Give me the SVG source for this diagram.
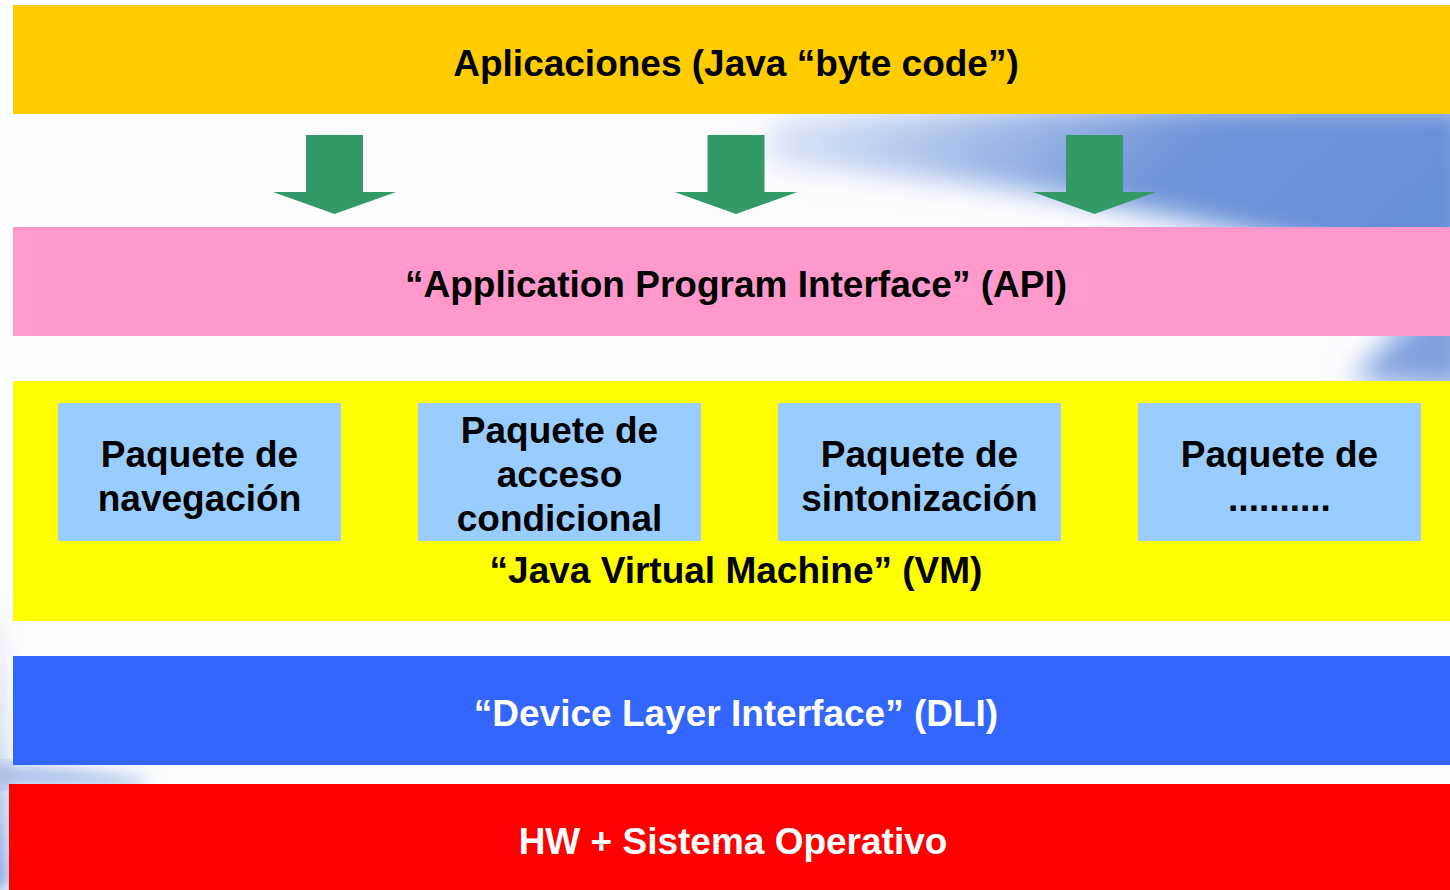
<svg xmlns="http://www.w3.org/2000/svg" xmlns:xlink="http://www.w3.org/1999/xlink" width="1450" height="890" viewBox="0 0 1450 890">
<defs>
<style>
.t{font-family:"Liberation Sans",Arial,sans-serif;font-weight:bold;font-size:37px;text-anchor:middle}
.k{fill:#000}
.w{fill:#fff}
.box{fill:#99CCFF}
</style>
<filter id="blur" x="-20%" y="-50%" width="140%" height="200%"><feGaussianBlur stdDeviation="14"/></filter>
<filter id="blur2" x="-50%" y="-20%" width="200%" height="140%"><feGaussianBlur stdDeviation="8"/></filter>
<linearGradient id="sw" x1="0" y1="0" x2="1" y2="0.3">
<stop offset="0" stop-color="#e4ecf9"/>
<stop offset="0.3" stop-color="#a9c0ea"/>
<stop offset="0.6" stop-color="#6f95da"/>
<stop offset="1" stop-color="#6690d8"/>
</linearGradient>
<linearGradient id="lf" x1="0" y1="0" x2="0" y2="1">
<stop offset="0" stop-color="#fafcff"/>
<stop offset="0.5" stop-color="#d8e3f6"/>
<stop offset="1" stop-color="#84a4dd"/>
</linearGradient>
<path id="arr" d="M-28.5 0 H28.5 V57 H61.5 L0 79 L-61.5 57 H-28.5 Z" fill="#339966"/>
</defs>
<rect width="1450" height="890" fill="#FCFDFF"/>
<g id="background">
<path d="M770 118 Q1050 100 1470 105 L1470 300 Q1380 262 1260 236 Q1060 190 900 175 Q820 166 770 164 Z" fill="url(#sw)" filter="url(#blur)"/>
<path d="M1470 260 Q1420 310 1350 380 L1470 390 Z" fill="#7ea0de" filter="url(#blur)"/>
<path d="M-20 590 L9 620 L9 890 L-20 890 Z" fill="url(#lf)" filter="url(#blur2)"/>
<path d="M-10 764 Q80 768 150 780 L140 786 L-10 786 Z" fill="#a3bbe6" filter="url(#blur2)"/>
</g>
<g id="aplicaciones">
<rect x="13" y="5" width="1437" height="109" fill="#FFCC00"/>
<text class="t k" x="736" y="76">Aplicaciones (Java “byte code”)</text>
</g>
<g id="connectors">
<use xlink:href="#arr" transform="translate(334.5,135)"/>
<use xlink:href="#arr" transform="translate(736,135)"/>
<use xlink:href="#arr" transform="translate(1094.5,135)"/>
</g>
<g id="api">
<rect x="13" y="227" width="1437" height="109" fill="#FF99CC"/>
<text class="t k" x="736" y="297">“Application Program Interface” (API)</text>
</g>
<g id="vm">
<rect x="13" y="381" width="1437" height="240" fill="#FFFF00"/>
<text class="t k" x="736" y="583">“Java Virtual Machine” (VM)</text>
</g>
<g id="pkg-navegacion">
<rect class="box" x="58" y="403" width="283" height="138"/>
<text class="t k" x="199.5" y="467">Paquete de</text>
<text class="t k" x="199.5" y="511">navegación</text>
</g>
<g id="pkg-acceso">
<rect class="box" x="418" y="403" width="283" height="138"/>
<text class="t k" x="559.5" y="443">Paquete de</text>
<text class="t k" x="559.5" y="487">acceso</text>
<text class="t k" x="559.5" y="531">condicional</text>
</g>
<g id="pkg-sintonizacion">
<rect class="box" x="778" y="403" width="283" height="138"/>
<text class="t k" x="919.5" y="467">Paquete de</text>
<text class="t k" x="919.5" y="511">sintonización</text>
</g>
<g id="pkg-otros">
<rect class="box" x="1138" y="403" width="283" height="138"/>
<text class="t k" x="1279.5" y="467">Paquete de</text>
<text class="t k" x="1279.5" y="511">..........</text>
</g>
<g id="dli">
<rect x="13" y="656" width="1437" height="109" fill="#3366FF"/>
<text class="t w" x="736" y="726">“Device Layer Interface” (DLI)</text>
</g>
<g id="hw">
<rect x="9" y="784" width="1441" height="106" fill="#FF0000"/>
<text class="t w" x="733" y="854">HW + Sistema Operativo</text>
</g>
</svg>
